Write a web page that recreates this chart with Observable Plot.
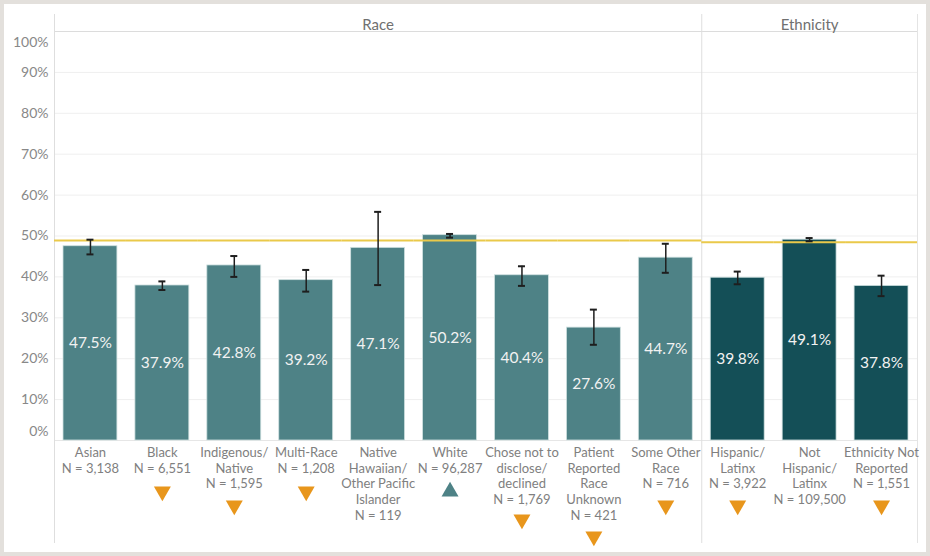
<!DOCTYPE html>
<html>
<head>
<meta charset="utf-8">
<script src="https://cdn.jsdelivr.net/npm/d3@7"></script>
<script src="https://cdn.jsdelivr.net/npm/@observablehq/plot@0.6"></script>
<style>
  body { margin: 0; background: #e3e0dc; width: 930px; height: 556px; overflow: hidden; }
  #box { position: absolute; left: 4px; top: 4px; width: 922px; height: 548px; background: #fff; }
</style>
</head>
<body>
<div id="box"></div>
<script>
// ---- data ----
const categories = ["Asian","Black","Indigenous/Native","Multi-Race","Native Hawaiian/Other Pacific Islander","White","Chose not to disclose/declined","Patient Reported Race Unknown","Some Other Race","Hispanic/Latinx","Not Hispanic/Latinx","Ethnicity Not Reported"];
const labelLines = [["Asian"],["Black"],["Indigenous/","Native"],["Multi-Race"],["Native","Hawaiian/","Other Pacific","Islander"],["White"],["Chose not to","disclose/","declined"],["Patient","Reported","Race","Unknown"],["Some Other","Race"],["Hispanic/","Latinx"],["Not","Hispanic/","Latinx"],["Ethnicity Not","Reported"]];
const groups = ["Race","Race","Race","Race","Race","Race","Race","Race","Race","Ethnicity","Ethnicity","Ethnicity"];
const counts = ["3,138","6,551","1,595","1,208","119","96,287","1,769","421","716","3,922","109,500","1,551"];
const rates = [47.5, 37.9, 42.8, 39.2, 47.1, 50.2, 40.4, 27.6, 44.7, 39.8, 49.1, 37.8];
const lowerCI = [45.5, 36.8, 40.0, 36.4, 38.0, 49.6, 37.8, 23.4, 41.0, 38.2, 48.7, 35.3];
const upperCI = [49.1, 38.9, 45.1, 41.7, 55.9, 50.5, 42.6, 32.0, 48.1, 41.3, 49.5, 40.3];
const flags = ["", "below", "below", "below", "", "above", "below", "below", "below", "below", "", "below"];
const panels = ["Race", "Ethnicity"];
const panelAverages = [48.9, 48.5];
const panelCenters = ["Native Hawaiian/Other Pacific Islander", "Not Hispanic/Latinx"];
const yTicks = [0,10,20,30,40,50,60,70,80,90,100];

const rows = categories.map((c, i) => ({
  cat: c, group: groups[i], rate: rates[i], lo: lowerCI[i], hi: upperCI[i],
  n: counts[i], lines: labelLines[i], flag: flags[i],
  avg: panelAverages[panels.indexOf(groups[i])],
  label: labelLines[i].join("\n") + "\nN = " + counts[i]
}));

const W = 922, H = 548, mL = 50, mR = 9, mT = 27, mB = 112;
const halfStep = (W - mL - mR) / categories.length / 2;
const raceColor = "#4e8286", ethColor = "#144f57", orange = "#e8961c";
const font = "Lato, 'Noto Sans', sans-serif";

const triMarks = [2,3,4,5].map((n, k) => Plot.dot(rows.filter(d => d.flag && d.lines.length + 1 === n), {
  x: "cat", frameAnchor: "bottom", dy: [51, 65, 79, 96][k],
  symbol: "triangle", r: 6.3, stroke: null,
  fill: d => d.flag === "below" ? orange : raceColor,
  rotate: d => d.flag === "below" ? 180 : 0
}));

const chart = Plot.plot({
  width: W, height: H,
  marginLeft: mL, marginRight: mR, marginTop: mT, marginBottom: mB,
  style: { fontFamily: font, background: "transparent", overflow: "visible" },
  x: { domain: categories, padding: 0, round: false, axis: null },
  y: { domain: [0, 100], axis: null },
  marks: [
    Plot.gridY(yTicks.slice(1, -1), { stroke: "#efefef", strokeOpacity: 1 }),
    Plot.ruleY([0], { stroke: "#e6e6e6" }),
    Plot.ruleY([100], { stroke: "#dcdcdc" }),
    Plot.ruleX(["Asian", "Hispanic/Latinx"], { dx: -halfStep, stroke: "#dedede", insetTop: -17, insetBottom: -103 }),
    Plot.ruleX(["Ethnicity Not Reported"], { dx: halfStep, stroke: "#e4e4e4", insetTop: -17, insetBottom: -103 }),
    Plot.text(panels, { x: panelCenters, text: d => d, frameAnchor: "top", dy: -12, fontSize: 15, fill: "#707070" }),
    Plot.axisY(yTicks.slice(1, -1), { tickSize: 0, tickPadding: 6, tickFormat: d => d + "%", fontSize: 14, fill: "#888888" }),
    Plot.axisY([0], { tickSize: 0, tickPadding: 6, tickFormat: d => d + "%", fontSize: 14, fill: "#888888", dy: -9 }),
    Plot.axisY([100], { tickSize: 0, tickPadding: 6, tickFormat: d => d + "%", fontSize: 14, fill: "#888888", dy: 11 }),
    Plot.barY(rows, { x: "cat", y: "rate", insetLeft: 9, insetRight: 9,
      fill: d => d.group === "Race" ? raceColor : ethColor, stroke: "#cfe0e0", strokeWidth: 0.8 }),
    Plot.tickY(rows, { x: "cat", y: "avg", stroke: "#eac94a", strokeWidth: 2 }),
    Plot.ruleX(rows, { x: "cat", y1: "lo", y2: "hi", stroke: "#1e1e1e", strokeWidth: 1.5 }),
    Plot.tickY(rows, { x: "cat", y: "lo", stroke: "#1e1e1e", strokeWidth: 2, insetLeft: halfStep - 3.5, insetRight: halfStep - 3.5 }),
    Plot.tickY(rows, { x: "cat", y: "hi", stroke: "#1e1e1e", strokeWidth: 2, insetLeft: halfStep - 3.5, insetRight: halfStep - 3.5 }),
    Plot.text(rows, { x: "cat", y: d => d.rate / 2, text: d => d.rate.toFixed(1) + "%", fill: "#f2f2f2", fontSize: 15.5 }),
    Plot.text(rows, { x: "cat", text: "label", frameAnchor: "bottom", lineAnchor: "top", dy: 5,
      fontSize: 13, lineHeight: 1.22, fill: "#808080" }),
    ...triMarks
  ]
});
document.getElementById("box").appendChild(chart);
</script>
</body>
</html>
